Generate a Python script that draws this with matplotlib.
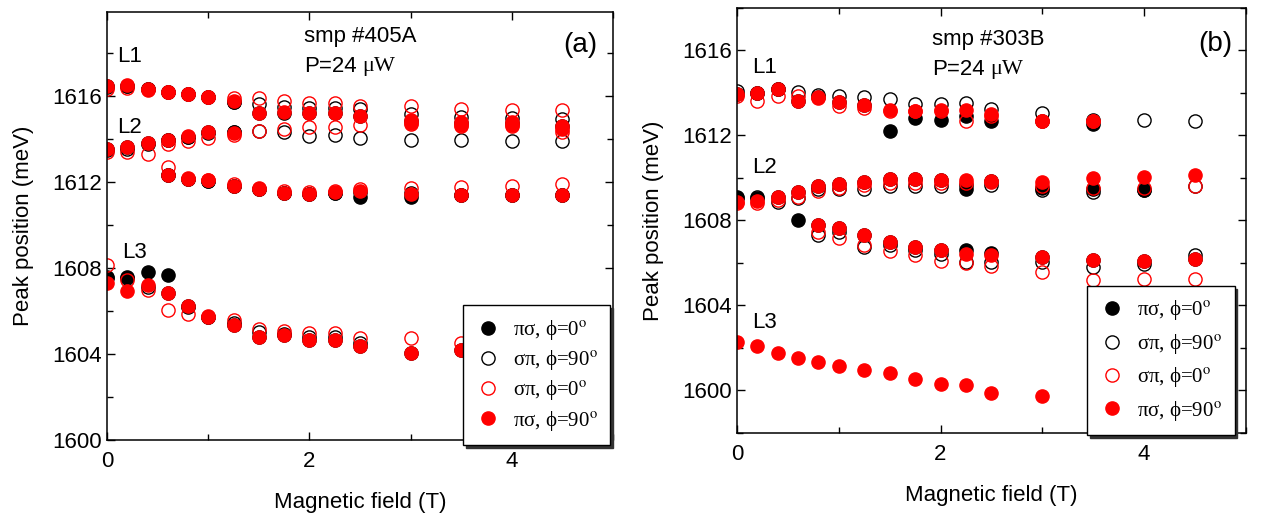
import numpy as np
import matplotlib
matplotlib.use('Agg')
import matplotlib.pyplot as plt
from matplotlib.ticker import MultipleLocator

plt.rcParams['font.family'] = ['Liberation Sans', 'DejaVu Sans']
plt.rcParams['mathtext.fontset'] = 'stix'

nan = np.nan

# magnetic field (T)
field = [0, 0.2, 0.4, 0.6, 0.8, 1.0, 1.25, 1.5, 1.75, 2.0, 2.25, 2.5, 3.0, 3.5, 4.0, 4.5]

# ---- panel (a): smp #405A, peak positions (meV), one list per branch
a_ps0 = [  # pi-sigma, phi=0 (black filled)
    [1616.45, 1616.45, 1616.3, 1616.2, 1616.1, 1615.95, 1615.72, 1615.2, 1615.2, 1615.2, 1615.2, 1615.05, 1614.85, 1614.75, 1614.75, 1614.6],
    [1613.55, 1613.6, 1613.8, 1613.95, 1614.1, 1614.3, 1614.32, nan, nan, nan, nan, nan, nan, nan, nan, nan],
    [nan, nan, nan, 1612.3, 1612.15, 1612.05, 1611.8, 1611.65, 1611.5, 1611.45, 1611.5, 1611.3, 1611.3, 1611.38, 1611.38, 1611.38],
    [1607.57, 1607.6, 1607.8, 1607.68, 1606.25, 1605.72, 1605.37, 1604.8, 1604.88, 1604.63, 1604.63, 1604.37, 1604.06, 1604.17, nan, nan],
]
a_sp90 = [  # sigma-pi, phi=90 (black open)
    [1616.4, 1616.45, 1616.3, 1616.2, 1616.1, 1615.97, 1615.7, 1615.6, 1615.5, 1615.45, 1615.45, 1615.4, 1615.15, 1615.0, 1614.95, 1614.92],
    [1613.5, 1613.55, 1613.75, 1613.95, 1614.1, 1614.28, 1614.3, 1614.35, 1614.3, 1614.15, 1614.18, 1614.06, 1613.95, 1613.95, 1613.9, 1613.9],
    [nan, nan, nan, 1612.3, 1612.15, 1612.05, 1611.8, 1611.65, 1611.5, 1611.45, 1611.5, 1611.55, 1611.5, 1611.4, 1611.4, 1611.4],
    [1607.55, 1607.55, 1607.1, 1606.85, 1606.2, 1605.7, 1605.45, 1605.0, 1604.95, 1604.8, 1604.8, 1604.5, nan, nan, nan, nan],
]
a_sp0 = [  # sigma-pi, phi=0 (red open)
    [1616.3, 1616.35, 1616.26, 1616.2, 1616.08, 1615.97, 1615.9, 1615.92, 1615.77, 1615.65, 1615.65, 1615.54, 1615.54, 1615.38, 1615.34, 1615.34],
    [1613.4, 1613.4, 1613.28, 1613.77, 1613.92, 1614.05, 1614.2, 1614.38, 1614.46, 1614.54, 1614.57, 1614.66, 1614.7, 1614.6, 1614.6, 1614.34],
    [nan, nan, nan, 1612.7, 1612.2, 1612.08, 1611.9, 1611.7, 1611.6, 1611.55, 1611.6, 1611.65, 1611.7, 1611.77, 1611.8, 1611.9],
    [1608.14, 1607.42, 1606.98, 1606.06, 1605.88, 1605.75, 1605.6, 1605.17, 1605.06, 1604.98, 1604.98, 1604.72, 1604.72, 1604.52, nan, nan],
]
a_ps90 = [  # pi-sigma, phi=90 (red filled)
    [1616.46, 1616.5, 1616.3, 1616.2, 1616.1, 1615.97, 1615.77, 1615.2, 1615.23, 1615.2, 1615.2, 1615.08, 1614.88, 1614.77, 1614.77, 1614.6],
    [1613.54, 1613.6, 1613.8, 1613.97, 1614.12, 1614.3, 1614.26, nan, nan, nan, nan, nan, 1614.75, 1614.65, 1614.65, 1614.45],
    [nan, nan, nan, 1612.3, 1612.15, 1612.08, 1611.8, 1611.66, 1611.5, 1611.46, 1611.54, 1611.57, 1611.46, 1611.38, 1611.38, 1611.38],
    [1607.29, 1606.94, 1607.22, 1606.83, 1606.25, 1605.72, 1605.37, 1604.8, 1604.88, 1604.63, 1604.63, 1604.37, 1604.06, 1604.17, nan, nan],
]

# ---- panel (b): smp #303B
b_ps0 = [
    [1613.97, 1614.0, 1614.2, 1613.64, 1613.8, 1613.57, 1613.45, 1612.19, 1612.82, 1612.74, 1612.9, 1612.66, 1612.66, 1612.54, nan, nan],
    [1609.12, 1609.04, 1609.12, 1609.35, 1609.6, 1609.7, 1609.8, 1609.95, 1609.95, 1609.9, 1609.5, 1609.87, 1609.55, 1609.5, 1609.45, nan],
    [nan, nan, nan, 1608.0, 1607.77, 1607.64, 1607.34, 1606.98, 1606.75, 1606.6, 1606.6, 1606.45, 1606.28, 1606.12, 1606.08, 1606.2],
]
b_sp90 = [
    [1614.1, 1614.0, 1614.2, 1614.05, 1613.9, 1613.84, 1613.8, 1613.7, 1613.5, 1613.5, 1613.53, 1613.25, 1613.05, 1612.72, 1612.75, 1612.66],
    [1609.04, 1609.12, 1608.88, 1609.04, 1609.5, 1609.5, 1609.5, 1609.6, 1609.6, 1609.6, 1609.65, 1609.65, 1609.43, 1609.35, 1609.43, 1609.6],
    [nan, nan, nan, nan, 1607.33, 1607.45, 1606.75, 1606.83, 1606.6, 1606.4, 1606.05, 1606.05, 1606.05, 1605.81, 1605.97, 1606.36],
]
b_sp0 = [
    [1613.84, 1613.6, 1613.84, 1613.84, 1613.76, 1613.37, 1613.3, 1613.17, 1613.17, 1613.14, 1612.66, 1612.9, 1612.66, 1612.66, nan, nan],
    [1608.8, 1608.8, 1608.96, 1609.12, 1609.39, 1609.54, 1609.67, 1609.75, 1609.75, 1609.75, 1609.75, 1609.8, 1609.64, 1609.51, 1609.51, 1609.64],
    [nan, nan, nan, nan, 1607.48, 1607.17, 1606.86, 1606.55, 1606.36, 1606.08, 1606.0, 1605.86, 1605.58, 1605.22, 1605.27, 1605.27],
]
b_ps90 = [
    [1613.97, 1614.0, 1614.2, 1613.64, 1613.8, 1613.57, 1613.45, 1613.2, 1613.17, 1613.2, 1613.2, 1613.0, 1612.7, 1612.7, nan, nan],
    [1608.88, 1608.9, 1609.12, 1609.35, 1609.6, 1609.7, 1609.8, 1609.95, 1609.95, 1609.9, 1609.9, 1609.87, 1609.83, 1609.98, 1610.06, 1610.14],
    [nan, nan, nan, nan, 1607.77, 1607.64, 1607.34, 1606.98, 1606.75, 1606.6, 1606.44, 1606.36, 1606.28, 1606.12, 1606.08, 1606.17],
    [1602.3, 1602.1, 1601.78, 1601.52, 1601.36, 1601.17, 1600.97, 1600.8, 1600.53, 1600.3, 1600.27, 1599.9, 1599.72, nan, nan, nan],
]

labels = ['πσ, ϕ=0$^{\\rm o}$', 'σπ, ϕ=90$^{\\rm o}$',
          'σπ, ϕ=0$^{\\rm o}$', 'πσ, ϕ=90$^{\\rm o}$']
styles = [dict(mfc='k', mec='k'), dict(mfc='none', mec='k'),
          dict(mfc='none', mec='red'), dict(mfc='red', mec='red')]


def draw(ax, series, ylim, sample, tag, lpos, leg_anchor, lspace):
    handles = []
    for branches, st in zip(series, styles):
        for i, e in enumerate(branches):
            h, = ax.plot(field, e, 'o', ms=9.5, mew=1.0, ls='none', **st)
            if i == 0:
                handles.append(h)
    ax.set_xlim(0, 5)
    ax.set_ylim(*ylim)
    ax.xaxis.set_major_locator(MultipleLocator(2))
    ax.xaxis.set_minor_locator(MultipleLocator(1))
    ax.yaxis.set_major_locator(MultipleLocator(4))
    ax.yaxis.set_minor_locator(MultipleLocator(2))
    ax.tick_params(which='both', direction='in', top=True, right=True, labelsize=16)
    ax.tick_params(which='major', length=6, width=1)
    ax.tick_params(which='minor', length=4, width=1)
    ax.tick_params(axis='x', pad=8)
    for s in ax.spines.values():
        s.set_linewidth(1.1)
    ax.set_xlabel('Magnetic field (T)', fontsize=16, labelpad=14)
    ax.set_ylabel('Peak position (meV)', fontsize=16, labelpad=13)
    ax.text(sample[0], sample[1], sample[2], transform=ax.transAxes, fontsize=16, va='center')
    ax.text(sample[0], sample[1] - 0.07, 'P=24', transform=ax.transAxes, fontsize=16, va='center')
    ax.text(sample[0] + 0.115, sample[1] - 0.07, 'μW', transform=ax.transAxes, fontsize=16, va='center',
            family=['Liberation Serif', 'DejaVu Serif'])
    ax.text(tag[0], tag[1], tag[2], transform=ax.transAxes, fontsize=20, ha='center', va='center')
    for name, (x, y) in zip(['L1', 'L2', 'L3'], lpos):
        ax.text(x, y, name, transform=ax.transAxes, fontsize=16, va='center')
    leg = ax.legend(handles, labels, loc='lower left', bbox_to_anchor=leg_anchor,
                    frameon=True, fancybox=False, shadow={'color': '0.2', 'alpha': 1},
                    prop={'family': ['Liberation Serif', 'DejaVu Serif'], 'size': 15}, handletextpad=0.6,
                    labelspacing=lspace, borderpad=0.6, handlelength=1.2, borderaxespad=0)
    leg.get_frame().set_edgecolor('k')
    leg.get_frame().set_linewidth(1)
    leg.set_zorder(10)


fig = plt.figure(figsize=(12.61, 5.22), dpi=100)
ax1 = fig.add_axes([0.0849, 0.1571, 0.4013, 0.8199])
ax2 = fig.add_axes([0.5844, 0.1705, 0.4036, 0.8142])

draw(ax1, [a_ps0, a_sp90, a_sp0, a_ps90], (1600, 1619.9),
     (0.39, 0.942, 'smp #405A'), (0.935, 0.923, '(a)'),
     [(0.02, 0.895), (0.02, 0.729), (0.03, 0.439)], (0.703, -0.012), 0.3)
draw(ax2, [b_ps0, b_sp90, b_sp0, b_ps90], (1598, 1618),
     (0.383, 0.925, 'smp #303B'), (0.94, 0.915, '(b)'),
     [(0.03, 0.859), (0.03, 0.624), (0.03, 0.261)], (0.688, -0.005), 0.45)

fig.savefig('out.png', dpi=100)
